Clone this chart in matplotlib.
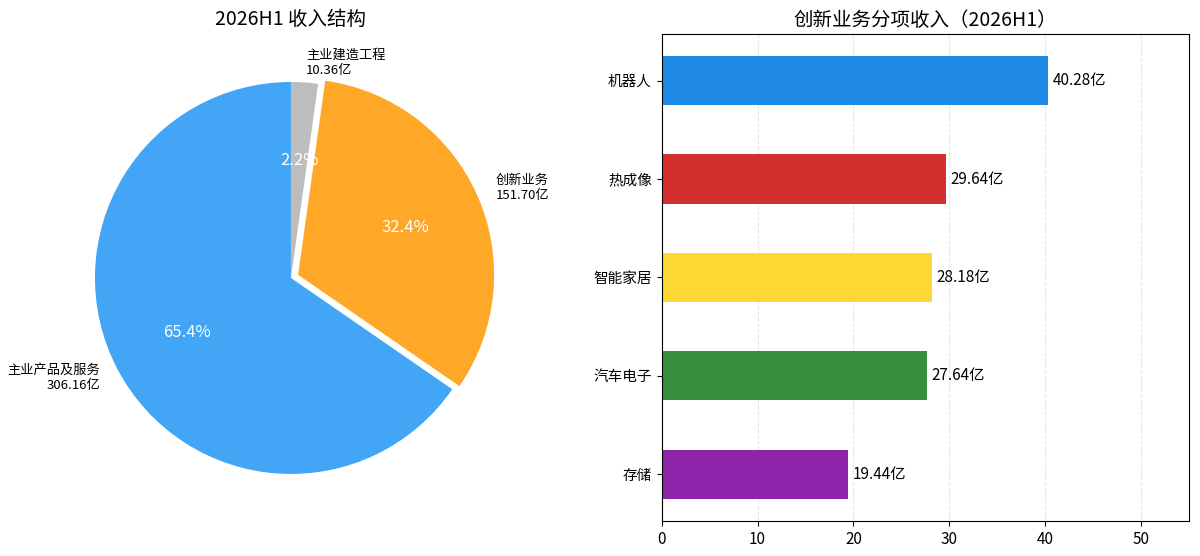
import matplotlib
matplotlib.use("Agg")
import matplotlib.pyplot as plt
import numpy as np

plt.rcParams['font.family'] = ['Noto Sans CJK SC', 'DejaVu Sans']

# 收入结构 (pie)
pie_labels = ['主业建造工程', '创新业务', '主业产品及服务']
pie_values = [10.36, 151.70, 306.16]
pie_colors = ['#BDBDBD', '#FFA726', '#42A5F5']
pie_explode = [0, 0.04, 0]

# 创新业务分项收入 (bars)
bar_labels = ['机器人', '热成像', '智能家居', '汽车电子', '存储']
bar_values = [40.28, 29.64, 28.18, 27.64, 19.44]
bar_colors = ['#1E88E5', '#D32F2F', '#FDD835', '#388E3C', '#8E24AA']

fig = plt.figure(figsize=(12, 5.56), dpi=100)

ax1 = fig.add_axes([0.0383, 0.0594, 0.4083, 0.8813])
texts = [f"{n}\n{v:.2f}亿" for n, v in zip(pie_labels, pie_values)]
wedges, ltexts, ptexts = ax1.pie(pie_values, labels=texts, colors=pie_colors,
                                 explode=pie_explode, startangle=90, counterclock=False,
                                 autopct='%1.1f%%', pctdistance=0.6, labeldistance=1.1,
                                 textprops={'fontsize': 9.5})
for t in ptexts:
    t.set_color('white')
    t.set_fontsize(12)
ax1.set_title('2026H1 收入结构', fontsize=14)

ax2 = fig.add_axes([0.5514, 0.063, 0.4394, 0.876])
y = np.arange(len(bar_labels))
ax2.barh(y, bar_values, height=0.5, color=bar_colors, zorder=2)
ax2.set_yticks(y)
ax2.set_yticklabels(bar_labels, fontsize=10.5)
ax2.invert_yaxis()
ax2.set_xlim(0, 55)
ax2.set_xticks([0, 10, 20, 30, 40, 50])
ax2.tick_params(axis='x', labelsize=11)
ax2.grid(axis='x', linestyle='--', color='#e0e0e0', alpha=0.8, zorder=0)
for yi, v in zip(y, bar_values):
    ax2.text(v + 0.5, yi, f"{v:.2f}亿", va='center', ha='left', fontsize=11)
ax2.set_title('创新业务分项收入（2026H1）', fontsize=14)

fig.savefig('out.png', dpi=100)
